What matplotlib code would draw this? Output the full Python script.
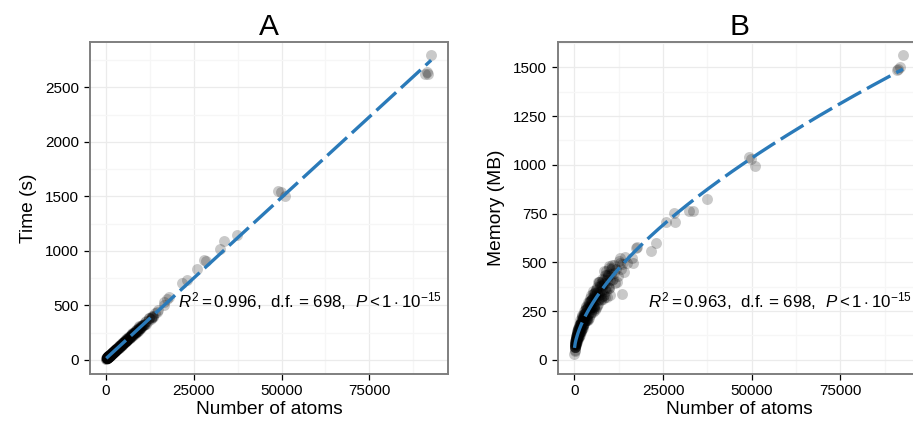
import numpy as np
import matplotlib
matplotlib.use("Agg")
import matplotlib.pyplot as plt
from matplotlib.ticker import MultipleLocator

plt.rcParams['font.family'] = ['Liberation Sans', 'DejaVu Sans']
plt.rcParams['mathtext.fontset'] = 'custom'
plt.rcParams['mathtext.rm'] = 'Liberation Sans'
plt.rcParams['mathtext.it'] = 'Liberation Sans:italic'

# ---- data: number of atoms, run time (s), memory (MB) ----
atoms = [
    # isolated large structures
    92600, 91800, 90900, 91300, 49100, 49700, 51000, 37300, 33500, 32400,
    28000, 28500, 25800, 23000, 21600, 17800, 17300, 16400, 16600,
    # dense cluster
    60, 90, 250,
    150, 200, 250, 300, 350, 400, 450, 500, 550, 600, 650, 700, 750, 800, 850, 900, 950, 1000,
    1050, 1150, 1250, 1350, 1450, 1550, 1650, 1750, 1850, 1950,
    2050, 2150, 2250, 2350, 2450, 2550, 2650, 2750, 2850, 2950,
    3050, 3175, 3300, 3425, 3550, 3675, 3800, 3925, 4050, 4175, 4300, 4425,
    4550, 4675, 4800, 4925, 5050, 5175, 5300, 5425, 5550, 5675, 5800, 5925,
    6100, 6300, 6500, 6700, 6900, 7100, 7300, 7500, 7700, 7900,
    8100, 8300, 8500, 8700, 8900, 9100, 9300, 9500, 9700, 9900,
    10300, 10700, 11100, 11500, 11900, 12300, 12700, 13100, 13500, 13900, 14400, 14900,
    13370, 13000,
    180, 280, 380, 480, 580, 680, 780, 880, 980,
    1100, 1300, 1500, 1700, 1900, 2100, 2300, 2500, 2700, 2900,
    3100, 3350, 3600, 3850, 4100, 4350, 4600, 4850, 5100, 5350, 5600, 5850,
    6200, 6600, 7000, 7400, 7800, 8200, 8600, 9000, 9400, 9800,
    120, 220, 320, 420, 520, 620, 720, 820, 920,
    1200, 1400, 1600, 1800, 2000, 2200, 2400, 2600, 2800,
    130, 170, 230, 270, 330, 370, 430, 470, 530, 570, 630, 670, 730, 770, 830, 870,
    930, 970, 1020, 1080, 1130, 1180, 1230, 1280, 1330, 1380, 1430, 1480, 1530, 1580,
    1630, 1680, 1730, 1780, 1830, 1880, 1930, 1980, 2080, 2180, 2280, 2380, 2480, 2580,
    2680, 2780, 2880, 2980, 3230, 3480, 3730, 3980, 4230, 4480, 4730, 4980, 5230, 5480,
    5730, 5980, 6450, 6950, 7450, 7950, 8450, 8950, 9450, 9950, 10500, 11300, 12100, 12900,
    2640, 2840, 3040, 3240, 3440, 3640, 3840, 4040, 4240, 4440,
    4640, 4840, 5040, 5240, 5440, 5640, 5840, 6040, 6240, 6440,
    6640, 6840, 7040, 7240, 7440, 7640, 7840, 8040, 8340, 8640,
    8940, 9240, 9540, 9840, 10140, 10440, 10740, 11040,
]
time_s = [
    2797, 2623, 2623, 2640, 1551, 1540, 1503, 1145, 1093, 1013,
    915, 905, 830, 732, 701, 578, 560, 533, 500,
    5, 8, 12,
    15, 15, 17, 18, 21, 22, 24, 24, 27, 27, 30, 29, 33, 33, 37, 36, 39, 37,
    41, 45, 44, 53, 52, 58, 56, 62, 62, 71,
    69, 76, 71, 83, 80, 88, 87, 88, 98, 103,
    102, 100, 113, 110, 117, 111, 128, 123, 134, 126, 139, 136,
    153, 146, 156, 147, 164, 159, 170, 162, 176, 172, 190, 180,
    178, 205, 197, 215, 202, 223, 218, 245, 234, 249,
    233, 267, 255, 277, 258, 284, 275, 306, 292, 310,
    320, 318, 342, 355, 352, 380, 375, 405, 400, 428, 440, 455,
    395, 392,
    14, 19, 20, 25, 26, 31, 32, 37, 38,
    44, 46, 56, 58, 68, 70, 80, 82, 92, 93,
    104, 105, 119, 120, 135, 134, 149, 150, 164, 163, 179, 178,
    198, 198, 222, 222, 246, 244, 270, 268, 294, 290,
    13, 17, 18, 23, 24, 29, 30, 35, 36,
    47, 49, 59, 61, 71, 73, 84, 84, 94,
    14, 14, 18, 18, 20, 20, 24, 24, 27, 26, 30, 29, 31, 31, 35, 36,
    38, 37, 42, 41, 43, 43, 48, 48, 50, 49, 55, 53, 56, 53,
    60, 58, 63, 60, 67, 64, 68, 65, 74, 73, 79, 77, 87, 84,
    90, 87, 99, 97, 108, 108, 126, 124, 135, 135, 155, 154, 169, 164,
    187, 182, 202, 203, 238, 242, 266, 262, 302, 297, 322, 325, 381, 385,
    90, 90, 103, 103, 112, 112, 127, 128, 137, 137,
    150, 151, 160, 160, 174, 175, 184, 184, 197, 198,
    206, 207, 223, 222, 232, 229, 245, 245, 258, 258,
    279, 280, 292, 292, 314, 316, 327, 327,
]
memory_mb = [
    1563, 1503, 1486, 1490, 1041, 1030, 995, 826, 763, 763,
    754, 708, 708, 597, 559, 580, 575, 520, 494,
    30, 45, 52,
    76, 66, 83, 79, 103, 76, 99, 109, 94, 122, 107, 97, 125, 144, 114, 126, 143, 115,
    127, 162, 119, 153, 167, 144, 186, 163, 148, 190,
    218, 172, 192, 218, 174, 214, 204, 233, 189, 228,
    241, 204, 262, 227, 205, 260, 296, 233, 257, 290, 231, 282,
    268, 305, 247, 296, 271, 339, 243, 306, 327, 276, 350, 301,
    306, 275, 350, 399, 313, 346, 390, 310, 379, 359,
    408, 331, 396, 363, 454, 324, 408, 437, 369, 469,
    441, 407, 486, 396, 468, 431, 505, 466, 493, 451, 526, 495,
    335, 494,
    66, 93, 86, 107, 89, 127, 116, 146, 119,
    156, 135, 169, 140, 196, 176, 227, 176, 216, 202,
    198, 269, 225, 273, 214, 301, 269, 333, 258, 318, 261, 343,
    361, 286, 398, 322, 386, 310, 434, 373, 439, 367,
    68, 72, 96, 81, 111, 106, 133, 109, 129,
    154, 135, 186, 162, 186, 162, 220, 202, 248,
    79, 64, 83, 66, 98, 90, 82, 107, 124, 95, 118, 90, 131, 119, 106, 136,
    154, 117, 142, 109, 157, 142, 124, 160, 180, 137, 166, 126, 181, 162,
    141, 182, 203, 154, 186, 141, 201, 180, 159, 206, 232, 177, 215, 164,
    236, 212, 186, 240, 275, 214, 264, 204, 297, 271, 240, 312, 353, 271,
    331, 253, 371, 342, 305, 401, 456, 353, 432, 333, 484, 446, 398, 524,
    224, 202, 253, 205, 244, 204, 278, 269, 242, 315,
    268, 307, 311, 276, 342, 272, 320, 266, 359, 344,
    306, 397, 334, 380, 382, 338, 416, 329, 388, 323,
    435, 419, 374, 483, 407, 465, 469, 415,
]

panel_titles = ["A", "B"]
x_label = "Number of atoms"
y_labels = ["Time (s)", "Memory (MB)"]
x_ticks = [0, 25000, 50000, 75000]
y_ticks = [[0, 500, 1000, 1500, 2000, 2500], [0, 250, 500, 750, 1000, 1250, 1500]]
annotations = [r"$R^2 = 0.996$,  d.f. = 698,  $P < 1\cdot10^{-15}$",
               r"$R^2 = 0.963$,  d.f. = 698,  $P < 1\cdot10^{-15}$"]

x = np.array(atoms, dtype=float)
t = np.array(time_s, dtype=float)
m = np.array(memory_mb, dtype=float)

# fits computed from the data
lin = np.polyfit(x, t, 1)
best = None
for c in np.linspace(0.3, 1.0, 141):
    X = np.column_stack([np.ones_like(x), x ** c])
    coef, res, *_ = np.linalg.lstsq(X, m, rcond=None)
    sse = np.sum((X @ coef - m) ** 2)
    if best is None or sse < best[0]:
        best = (sse, c, coef)
_, pc, pcoef = best
xs = np.linspace(x.min(), x.max(), 400)
fits = [np.polyval(lin, xs), pcoef[0] + pcoef[1] * xs ** pc]

fig = plt.figure(figsize=(9.13, 4.29), dpi=100)
W, H = 913.0, 429.0
axA = fig.add_axes([90 / W, (H - 374) / H, 358 / W, 332 / H])
axB = fig.add_axes([558 / W, (H - 374) / H, 362 / W, 332 / H])
axes = [axA, axB]
ys = [t, m]
ylims = [(-131, 2917), (-73, 1630)]
yminor = [250, 125]
ann_pos = [(20500, 484), (20880, 270)]

for i, ax in enumerate(axes):
    ax.set_xlim(-4580, 97400)
    ax.set_ylim(*ylims[i])
    ax.set_xticks(x_ticks)
    ax.set_xticklabels([str(v) for v in x_ticks])
    ax.set_yticks(y_ticks[i])
    ax.set_yticklabels([str(v) for v in y_ticks[i]])
    ax.xaxis.set_minor_locator(MultipleLocator(12500))
    ax.yaxis.set_minor_locator(MultipleLocator(yminor[i]))
    ax.grid(which='major', color='#ebebeb', lw=0.9, zorder=0)
    ax.grid(which='minor', color='#f6f6f6', lw=0.9, zorder=0)
    ax.set_axisbelow(True)
    ax.tick_params(which='minor', length=0)
    ax.tick_params(which='major', length=4.3, width=0.9, color='black',
                   labelsize=11, labelcolor='black', direction='out')
    ax.tick_params(axis='x', pad=3.0)
    ax.tick_params(axis='y', pad=3.5)
    for s in ax.spines.values():
        s.set_color('#7f7f7f')
        s.set_linewidth(1.4)
    ax.scatter(x, ys[i], s=62, color='black', alpha=0.21, linewidths=0, zorder=2)
    ax.plot(xs, fits[i], color='#2a7ab9', lw=2.4, linestyle=(0, (8.0, 2.0)),
            dash_capstyle='butt', zorder=3)
    ax.set_xlabel(x_label, fontsize=13.8, labelpad=2)
    ax.set_ylabel(y_labels[i], fontsize=13.8, labelpad=6)
    ax.set_title(panel_titles[i], fontsize=21.5, pad=5)
    ax.text(ann_pos[i][0], ann_pos[i][1], annotations[i], fontsize=12.2,
            ha='left', va='baseline', zorder=4)

fig.savefig("out.png", dpi=100)
